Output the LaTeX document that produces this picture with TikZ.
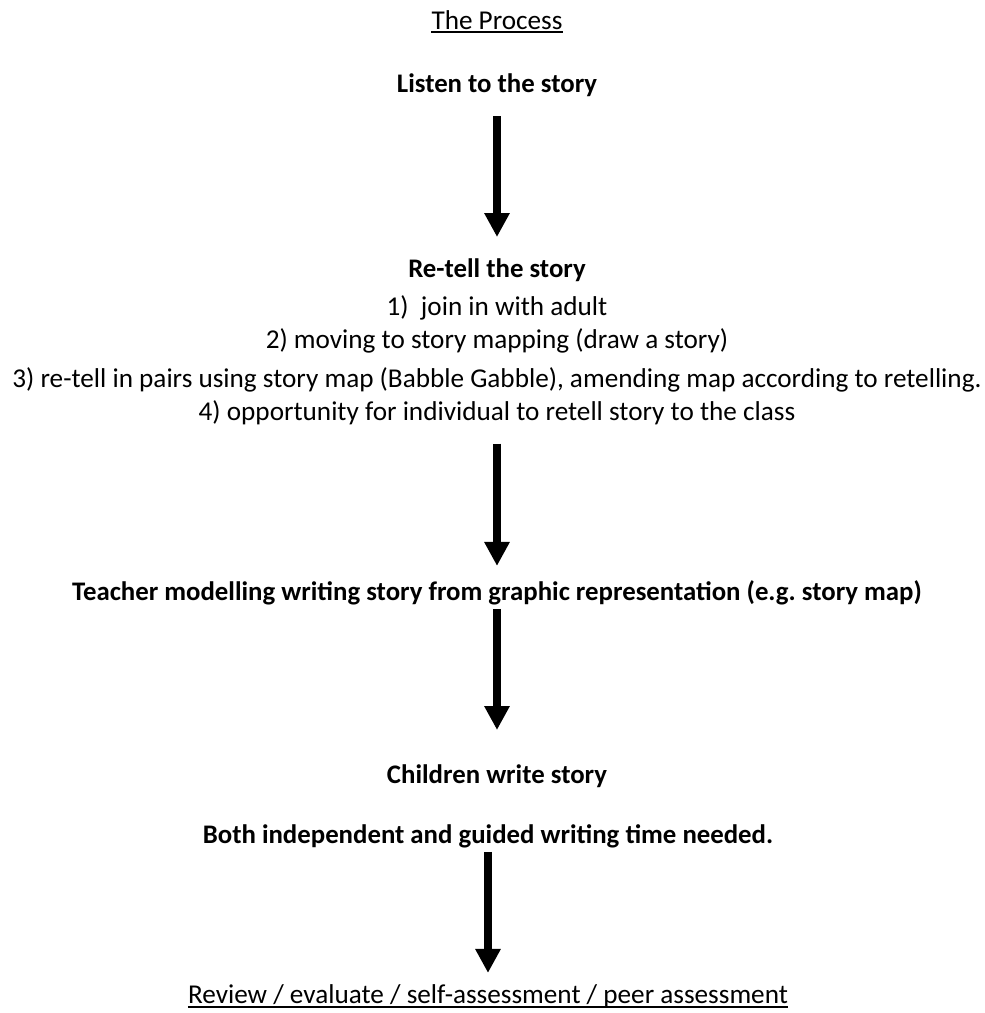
\documentclass[tikz,border=0pt]{standalone}
\usepackage{fontspec}
\setmainfont{Carlito}
\usepackage{tikz}
\usetikzlibrary{arrows.meta, positioning, calc}

\begin{document}
\begin{tikzpicture}
            [
                x=1pt, y=-1pt,
                every node/.style={inner sep=0pt, anchor=base, font=\fontsize{27.2}{32}\selectfont},
                heading/.style={font=\fontsize{26.8}{32}\selectfont\bfseries},
                stepline/.style={},
                flow/.style={line width=8pt, -{Triangle[width=24pt, length=24pt]}},
                uline/.style={line width=1.5pt}
            ]
            \useasboundingbox (0,0) rectangle (985,1013);
            \node (title) at (497,29) {The Process};
            \node [heading] (listen) at (497,92) {Listen to the story};
            \node [heading] (retell) at (497,277) {Re-tell the story};
            \node [stepline] (one) at (497,315) {1)\ \ join in with adult};
            \node [stepline] (two) at (497,348) {2) moving to story mapping (draw a story)};
            \node [stepline] (three) at (497,387) {3) re-tell in pairs using story map (Babble Gabble), amending map according to retelling.};
            \node [stepline] (four) at (497,420) {4) opportunity for individual to retell story to the class};
            \node [heading] (teacher) at (497,600) {Teacher modelling writing story from graphic representation (e.g.\ story map)};
            \node [heading] (children) at (497,783) {Children write story};
            \node [heading] (both) at (488,843) {Both independent and guided writing time needed.};
            \node (review) at (488,1003) {Review / evaluate / self-assessment / peer assessment};
            \draw [uline] ([yshift=-3pt]title.base west) -- ([yshift=-3pt]title.base east);
            \draw [uline] ([yshift=-4pt]review.base west) -- ([yshift=-4pt]review.base east);
            \draw [flow, shorten <=20pt, shorten >=21pt] (listen.south) -- (retell.north);
            \draw [flow, shorten <=19pt, shorten >=14pt] (four.south) -- (teacher.north);
            \draw [flow, shorten <=4pt, shorten >=34pt] (teacher.south) -- (children.north);
            \draw [flow, shorten <=4pt, shorten >=11pt] (both.south) -- (review.north);
        \end{tikzpicture}
\end{document}
